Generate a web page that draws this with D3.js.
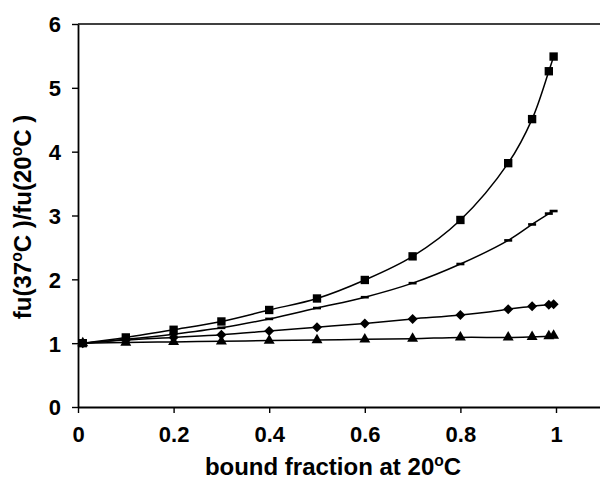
<!DOCTYPE html>
<html lang="en">
<head>
    <meta charset="UTF-8">
    <title>fu ratio vs bound fraction</title>
    <script src="https://d3js.org/d3.v7.min.js"></script>
    <style>
        body { margin: 0; background: #fff; }
        text { font-family: "Liberation Sans", Arial, sans-serif; font-weight: bold; fill: #000; }
    </style>
</head>
<body>
    <div id="chart"></div>

    <script>
        // bound fraction at 20C
        const boundFraction = [0.01, 0.1, 0.2, 0.3, 0.4, 0.5, 0.6, 0.7, 0.8, 0.9, 0.95, 0.985, 0.995];

        // fu(37C)/fu(20C) for each series
        const squareSeries   = [1.0, 1.09, 1.21, 1.34, 1.52, 1.70, 1.99, 2.36, 2.93, 3.82, 4.51, 5.26, 5.49];
        const dashSeries     = [1.0, 1.06, 1.14, 1.24, 1.38, 1.55, 1.72, 1.94, 2.24, 2.61, 2.86, 3.03, 3.07];
        const diamondSeries  = [1.0, 1.05, 1.09, 1.13, 1.19, 1.25, 1.31, 1.38, 1.44, 1.53, 1.58, 1.60, 1.61];
        const triangleSeries = [1.0, 1.01, 1.02, 1.03, 1.04, 1.05, 1.06, 1.07, 1.09, 1.09, 1.10, 1.11, 1.12];

        const xTicks = [0, 0.2, 0.4, 0.6, 0.8, 1];
        const yTicks = [0, 1, 2, 3, 4, 5, 6];

        const width = 600;
        const height = 480;

        const svg = d3.select("#chart").append("svg")
            .attr("width", width)
            .attr("height", height);

        // plot box runs past the right edge of the picture
        const x = d3.scaleLinear().domain([0, 1.2]).range([78, 651.6]);
        const y = d3.scaleLinear().domain([0, 6]).range([407, 24]);

        // frame top line
        svg.append("line")
            .attr("x1", x(0)).attr("x2", x(1.2))
            .attr("y1", y(6)).attr("y2", y(6))
            .attr("stroke", "#000").attr("stroke-width", 1.6);

        const xAxis = svg.append("g")
            .attr("transform", `translate(0,${y(0)})`)
            .call(d3.axisBottom(x).tickValues(xTicks).tickSize(6).tickSizeOuter(0)
                .tickFormat(d => String(+d.toFixed(1))));

        const yAxis = svg.append("g")
            .attr("transform", `translate(${x(0)},0)`)
            .call(d3.axisLeft(y).tickValues(yTicks).tickSize(6).tickSizeOuter(0)
                .tickFormat(d3.format("d")));

        [xAxis, yAxis].forEach(g => {
            g.select(".domain").attr("stroke-width", 1.8);
            g.selectAll(".tick line").attr("stroke-width", 1.4);
            g.selectAll(".tick text").attr("font-size", 22).attr("font-family", null);
        });
        xAxis.selectAll(".tick text").attr("dy", "1.2em");
        yAxis.selectAll(".tick text").attr("x", -17).attr("dy", "0.36em");

        // lines
        const series = [
            { values: squareSeries, marker: "square" },
            { values: dashSeries, marker: "dash" },
            { values: diamondSeries, marker: "diamond" },
            { values: triangleSeries, marker: "triangle" }
        ];

        const line = d3.line()
            .x(d => x(d[0]))
            .y(d => y(d[1]))
            .curve(d3.curveCatmullRom);

        const markers = {
            square: d3.symbol(d3.symbolSquare, 70)(),
            diamond: d3.symbol(d3.symbolSquare, 50)(),
            triangle: d3.symbol(d3.symbolTriangle, 52)()
        };

        series.forEach(s => {
            const pts = boundFraction.map((b, i) => [b, s.values[i]]);

            svg.append("path")
                .datum(pts)
                .attr("fill", "none")
                .attr("stroke", "#000")
                .attr("stroke-width", 1.5)
                .attr("d", line);

            const g = svg.append("g");
            if (s.marker === "dash") {
                g.selectAll("rect")
                    .data(pts)
                    .join("rect")
                    .attr("x", d => x(d[0]) - 4)
                    .attr("y", d => y(d[1]) - 1.3)
                    .attr("width", 8)
                    .attr("height", 2.6)
                    .attr("fill", "#000");
            } else {
                g.selectAll("path")
                    .data(pts)
                    .join("path")
                    .attr("d", markers[s.marker])
                    .attr("transform", d => `translate(${x(d[0])},${y(d[1])})` +
                        (s.marker === "diamond" ? " rotate(45)" : ""))
                    .attr("fill", "#000");
            }
        });

        // axis titles
        const xTitle = svg.append("text")
            .attr("x", 333)
            .attr("y", 475)
            .attr("text-anchor", "middle")
            .attr("font-size", 24);
        xTitle.append("tspan").text("bound fraction at 20");
        xTitle.append("tspan").attr("font-size", "0.65em").attr("dy", "-0.55em").text("o");
        xTitle.append("tspan").attr("dy", "0.36em").text("C");

        const yTitle = svg.append("text")
            .attr("transform", "translate(31,217) rotate(-90)")
            .attr("text-anchor", "middle")
            .attr("font-size", 24);
        yTitle.append("tspan").text("fu(37");
        yTitle.append("tspan").attr("font-size", "0.65em").attr("dy", "-0.55em").text("o");
        yTitle.append("tspan").attr("dy", "0.36em").text("C )/fu(20");
        yTitle.append("tspan").attr("font-size", "0.65em").attr("dy", "-0.55em").text("o");
        yTitle.append("tspan").attr("dy", "0.36em").text("C )");
    </script>
</body>
</html>
